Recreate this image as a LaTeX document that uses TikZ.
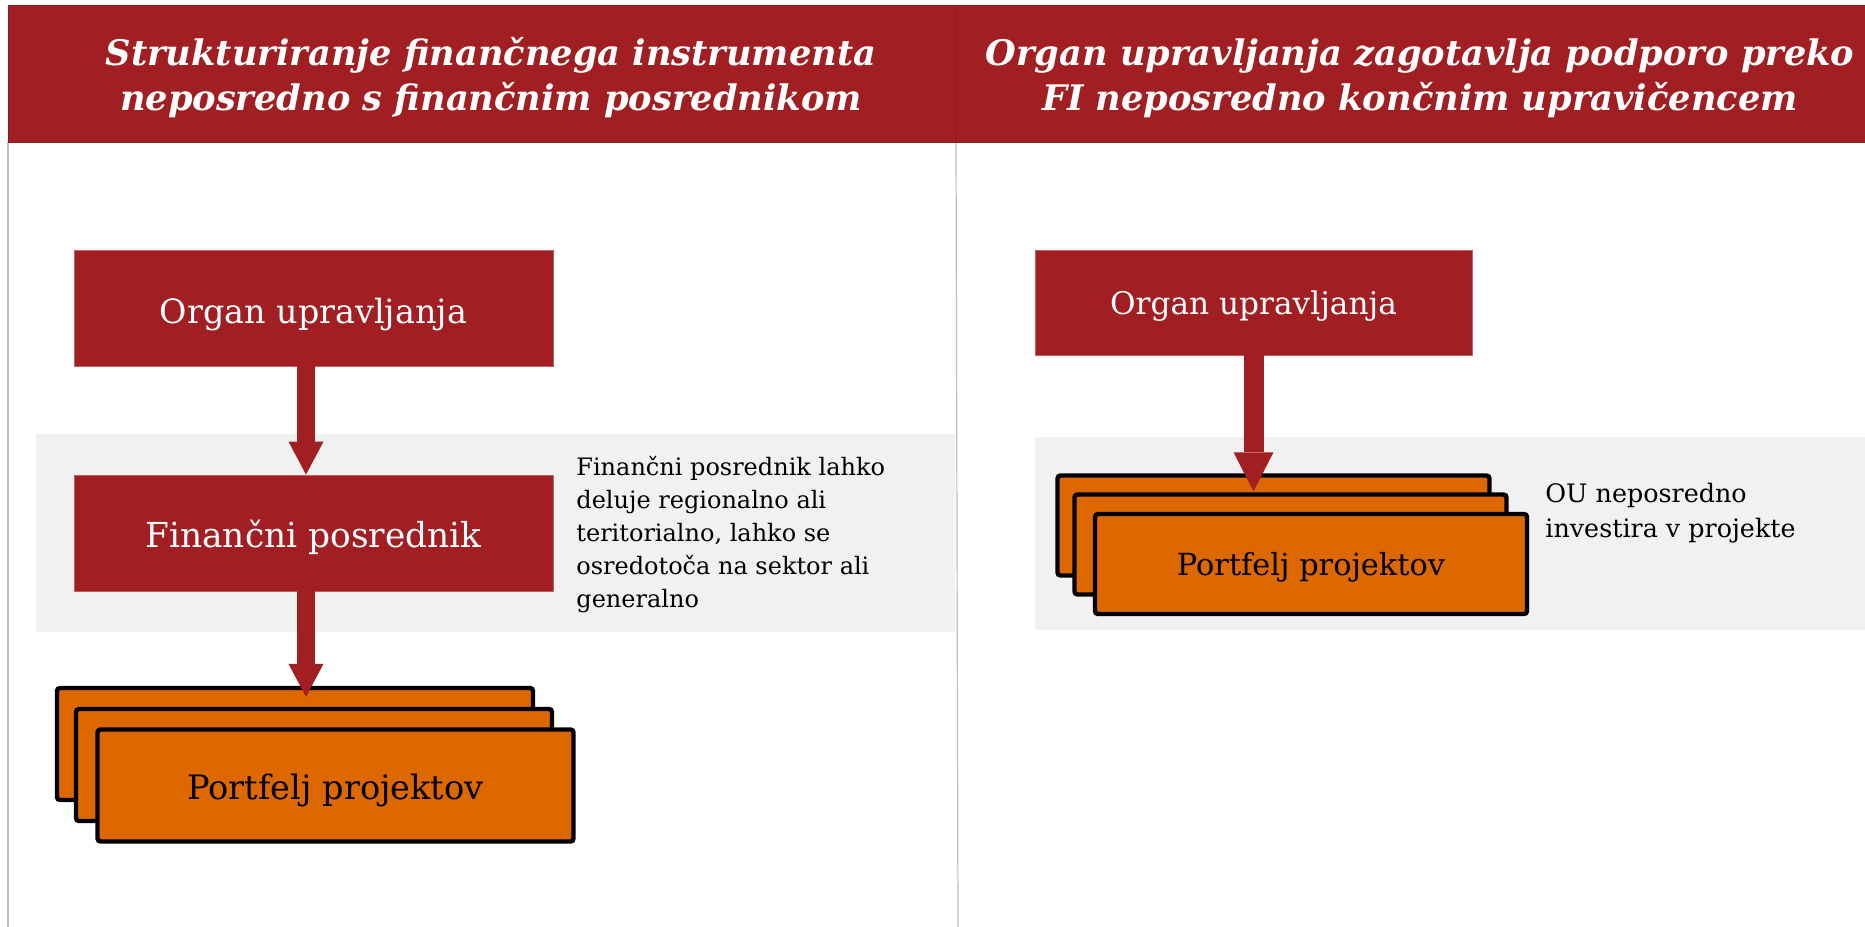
\documentclass[tikz,border=0pt]{standalone}
\usepackage{fontspec}
\setmainfont{DejaVu Serif}
\usetikzlibrary{arrows.meta}
\definecolor{ored}{RGB}{161,31,34}
\definecolor{oredline}{RGB}{140,26,30}
\definecolor{oorange}{RGB}{221,104,0}
\definecolor{band}{RGB}{241,241,241}
\definecolor{rulegray}{RGB}{190,190,190}
\tikzset{
  hdrbox/.style={fill=ored, draw=oredline, line width=0.6pt, inner sep=0pt},
  hdrtext/.style={text=white, font=\bfseries\itshape\fontsize{17.6}{22.5}\selectfont, align=center, inner sep=0pt, anchor=base},
  redbox/.style={fill=ored, draw=ored!70!white, line width=0.4pt, text=white, inner sep=0pt, text depth=5pt},
  portbox/.style={fill=oorange, draw=black, line width=2.2pt, rounded corners=1.5pt, inner sep=0pt, minimum width=238pt, minimum height=56pt},
  portboxR/.style={fill=oorange, draw=black, line width=2.2pt, rounded corners=1.5pt, inner sep=0pt, minimum width=216pt, minimum height=50pt},
  flowarrow/.style={draw=ored, line width=9pt, -{Triangle[width=17.5pt,length=16.5pt,line width=0pt]}},
  flowarrowR/.style={draw=ored, line width=10pt, -{Triangle[width=20pt,length=19.5pt,line width=0pt]}},
  note/.style={anchor=base west, align=left, inner sep=0pt, text=black}
}
\begin{document}
\begin{tikzpicture}[x=0.5pt,y=-0.5pt]
\useasboundingbox (0,0) rectangle (1865,927);
\fill[white] (0,0) rectangle (1865,927);
% gray bands
\fill[band] (36,434) rectangle (955,632);
\fill[band] (1035,437) rectangle (1865,630);
% frame lines
\draw[rulegray, line width=0.6pt] (8,142) -- (8,927);
\draw[rulegray, line width=0.6pt] (956,142) -- (958,927);
% headers
\node[hdrbox, minimum width=473.5pt, minimum height=68.5pt, anchor=north west] (hL) at (8,5) {};
\node[hdrbox, minimum width=456pt, minimum height=68.5pt, anchor=north west] (hR) at (955,5) {};
\node[hdrtext] (hLt) at (491,110) {Strukturiranje finančnega instrumenta\\neposredno s finančnim posrednikom};
\node[hdrtext] (hRt) at (1420,110) {Organ upravljanja zagotavlja podporo preko\\FI neposredno končnim upravičencem};
% left column
\node[redbox, minimum width=239.5pt, minimum height=58pt, text height=20pt, font=\fontsize{16.7}{20}\selectfont] (orgL) at (313.5,308) {Organ upravljanja};
\node[redbox, minimum width=239.5pt, minimum height=58pt, text height=19pt, font=\fontsize{17.2}{20}\selectfont] (finL) at (313.5,533) {Finančni posrednik};
\node[portbox] (portL1) at (295,744) {};
\node[portbox] (portL2) at (314,765) {};
\node[portbox, text height=18.5pt, text depth=5pt, font=\fontsize{16.8}{20}\selectfont] (portL) at (335.5,785.5) {Portfelj projektov};
\draw[flowarrow] ([xshift=-3.75pt]orgL.south) -- ([xshift=-3.75pt]finL.north);
\draw[flowarrow, shorten >=5pt] ([xshift=-3.75pt]finL.south) -- ([xshift=-3.75pt]finL.south |- portL2.north);
\node[note, font=\fontsize{12}{16.5}\selectfont] (noteL) at (576,607) {Finančni posrednik lahko\\deluje regionalno ali\\teritorialno, lahko se\\osredotoča na sektor ali\\generalno};
% right column
\node[redbox, minimum width=218.5pt, minimum height=52.5pt, text height=16.5pt, font=\fontsize{15.6}{19}\selectfont] (orgR) at (1253.5,302.5) {Organ upravljanja};
\node[portboxR] (portR1) at (1273.5,525.5) {};
\node[portboxR] (portR2) at (1290.5,544.5) {};
\node[portboxR, text height=16pt, text depth=5pt, font=\fontsize{15.2}{19}\selectfont] (portR) at (1311,564) {Portfelj projektov};
\draw[flowarrowR, shorten >=0.5pt] (orgR.south) -- (orgR.south |- portR2.north);
\node[note, font=\fontsize{12.7}{17.5}\selectfont] (noteR) at (1545,537) {OU neposredno\\investira v projekte};
\end{tikzpicture}
\end{document}
